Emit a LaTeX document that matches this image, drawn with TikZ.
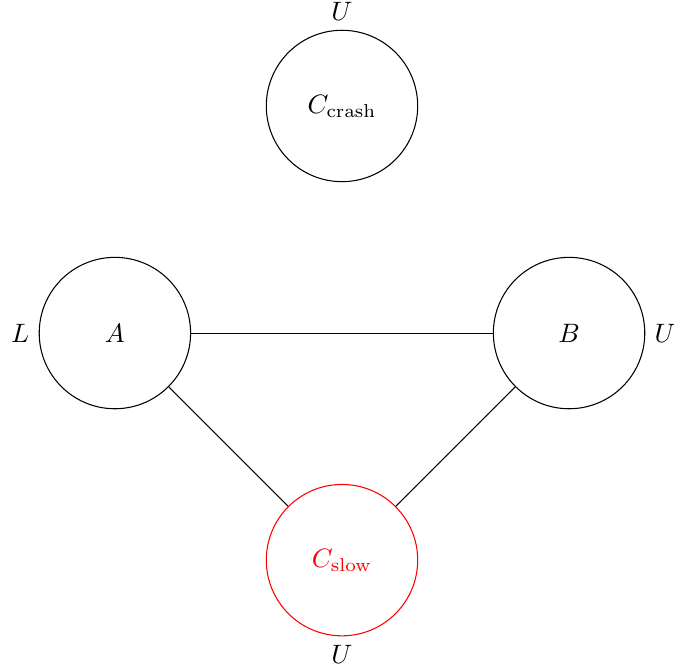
\documentclass[tikz,border=0pt]{standalone}
\begin{document}
\begin{tikzpicture}
\tikzset{vertex/.style={circle,draw,minimum size=2cm,inner sep=0pt}}
\useasboundingbox (-4.518,-4.477) rectangle (4.386,4.400);
\node[vertex,label=above:$U$] (crash) at (0,3) {$C_{\mathrm{crash}}$};
\node[vertex,label=left:$L$] (A) at (-3,0) {$A$};
\node[vertex,label=right:$U$] (B) at (3,0) {$B$};
\node[vertex,draw=red,text=red,label=below:$U$] (slow) at (0,-3) {$C_{\mathrm{slow}}$};
\draw (A) -- (B);
\draw (A) -- (slow);
\draw (B) -- (slow);
\end{tikzpicture}
\end{document}
